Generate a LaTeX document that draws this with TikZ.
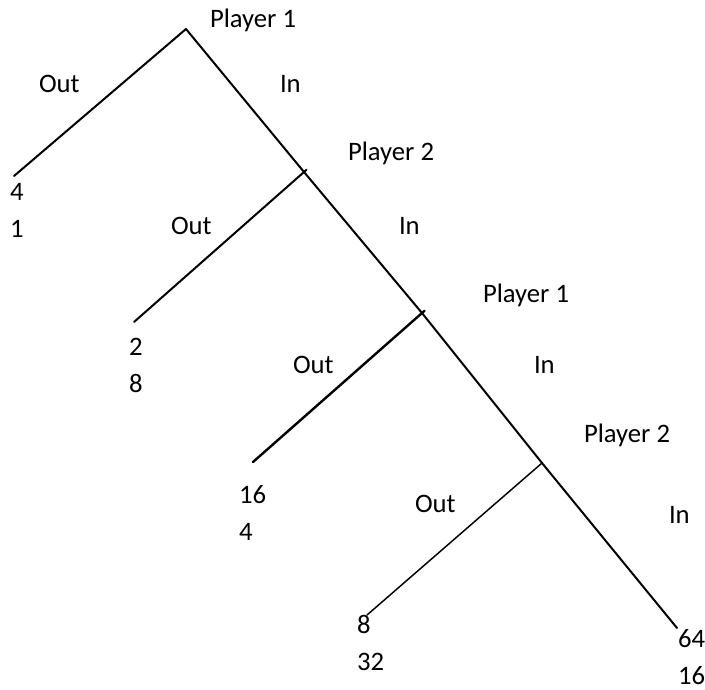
\documentclass[tikz,border=0pt]{standalone}
\usepackage{fontspec}
\setmainfont{Carlito}
\tikzset{every picture/.style={line width=1.5pt}}
\tikzset{
  lbl/.style={anchor=base west,inner sep=0pt,font=\fontsize{20}{27.75}\selectfont},
  payoff/.style={lbl,align=left},
  branch/.style={line width=1.5pt,line cap=round},
  tick/.style={shorten <=-2.5pt}
}

\begin{document}
\begin{tikzpicture}[x=0.75pt,y=0.75pt,yscale=-1,xscale=1]
\useasboundingbox (0,0) rectangle (705,689);

% decision points and ends
\coordinate (p1) at (186,29);
\coordinate (p2) at (304,172);
\coordinate (p3) at (422,313);
\coordinate (p4) at (542,463);
\coordinate (e1) at (14,176);
\coordinate (e2) at (134,322);
\coordinate (e3) at (253,462);
\coordinate (e4) at (367,615);
\coordinate (e5) at (677,628);

%Straight Lines [id:in-path]
\draw [branch] (p1) -- (p2) -- (p3) -- (p4) -- (e5);
%Straight Lines [id:out1]
\draw [branch] (p1) -- (e1);
%Straight Lines [id:out2]
\draw [branch,tick] (p2) -- (e2);
%Straight Lines [id:out3]
\draw [branch,tick,line width=1.8pt] (p3) -- (e3);
%Straight Lines [id:out4]
\draw [branch,line width=1.1pt] (p4) -- (e4);

% Text Node
\node [lbl] (pl1) at (209,27) {Player 1};
\node [lbl] (out1) at (38,92) {Out};
\node [lbl] (in1) at (279,92) {In};
\node [payoff] (pay1) at (9,237) {4\\1};
% Text Node
\node [lbl] (pl2) at (347,160) {Player 2};
\node [lbl] (out2) at (170,234) {Out};
\node [lbl] (in2) at (398,234) {In};
\node [payoff] (pay2) at (128,392) {2\\8};
% Text Node
\node [lbl] (pl3) at (482,302) {Player 1};
\node [lbl] (out3) at (292,373) {Out};
\node [lbl] (in3) at (533,373) {In};
\node [payoff] (pay3) at (238,540) {16\\4};
% Text Node
\node [lbl] (pl4) at (583,442) {Player 2};
\node [lbl] (out4) at (414,512) {Out};
\node [lbl] (in4) at (668,523) {In};
\node [payoff] (pay4) at (356,670) {8\\32};
\node [payoff] (pay5) at (677,684) {64\\16};

\end{tikzpicture}
\end{document}
